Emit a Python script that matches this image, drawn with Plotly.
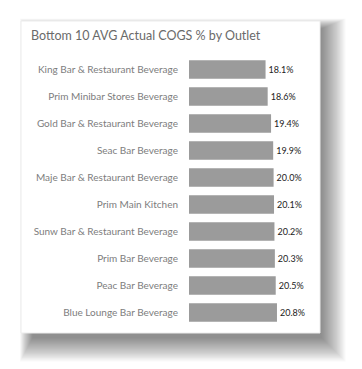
import plotly.graph_objects as go

outlets = [
    "King Bar & Restaurant Beverage",
    "Prim Minibar Stores Beverage",
    "Gold Bar & Restaurant Beverage",
    "Seac Bar Beverage",
    "Maje Bar & Restaurant Beverage",
    "Prim Main Kitchen",
    "Sunw Bar & Restaurant Beverage",
    "Prim Bar Beverage",
    "Peac Bar Beverage",
    "Blue Lounge Bar Beverage",
]
cogs_pct = [18.1, 18.6, 19.4, 19.9, 20.0, 20.1, 20.2, 20.3, 20.5, 20.8]
title_text = "Bottom 10 AVG Actual COGS % by Outlet"

OFF = 8  # default page body margin
W, H = 362 - OFF, 369 - OFF
L, R, T, B = 189 - OFF, 62, 56 - OFF, 43
PW = W - L - R
PH = H - T - B
PX_PER_UNIT = 4.23


def px(x):
    return (x - OFF - L) / PW


def py(y):
    return (H - B - (y - OFF)) / PH


fig = go.Figure(
    go.Bar(
        x=cogs_pct,
        y=outlets,
        orientation="h",
        marker=dict(color="#9b9b9b", line=dict(width=0)),
        text=[f"{v:.1f}%" for v in cogs_pct],
        textposition="outside",
        textfont=dict(family="Lato", size=9, color="#222222"),
        cliponaxis=False,
        hoverinfo="skip",
    )
)

shapes = []
card = (21, 21, 320, 333)
base = (card[0] + 12, card[1] + 8, card[2] + 1, card[3] + 4)
for i in range(26):
    g = i + 1
    shapes.append(dict(
        type="rect", xref="paper", yref="paper", layer="below",
        x0=px(base[0] - g * 0.5), x1=px(base[2] + g * 0.95),
        y0=py(base[1] - g * 0.4), y1=py(base[3] + g * 0.95),
        fillcolor="rgba(0,0,0,0.02)", line=dict(width=0),
    ))
shapes.append(dict(
    type="rect", xref="paper", yref="paper", layer="below",
    x0=px(card[0]), x1=px(card[2]), y0=py(card[1]), y1=py(card[3]),
    fillcolor="#ffffff", line=dict(color="#ececec", width=1),
))

fig.update_layout(
    width=W, height=H,
    margin=dict(l=L, r=R, t=T, b=B),
    paper_bgcolor="#ffffff",
    plot_bgcolor="rgba(0,0,0,0)",
    showlegend=False,
    bargap=0.31,
    shapes=shapes,
    xaxis=dict(range=[0, PW / PX_PER_UNIT], visible=False, fixedrange=True),
    yaxis=dict(
        autorange="reversed", showgrid=False, zeroline=False, showline=False,
        ticks="", ticklabelstandoff=10,
        tickfont=dict(family="Lato", size=10, color="#7d7d7d"),
    ),
    annotations=[dict(
        text=title_text, xref="paper", yref="paper",
        x=px(29), y=py(35), xanchor="left", yanchor="middle",
        showarrow=False, font=dict(family="Lato", size=12.5, color="#6a6a6a"),
    )],
)

fig.write_html("out.html")
